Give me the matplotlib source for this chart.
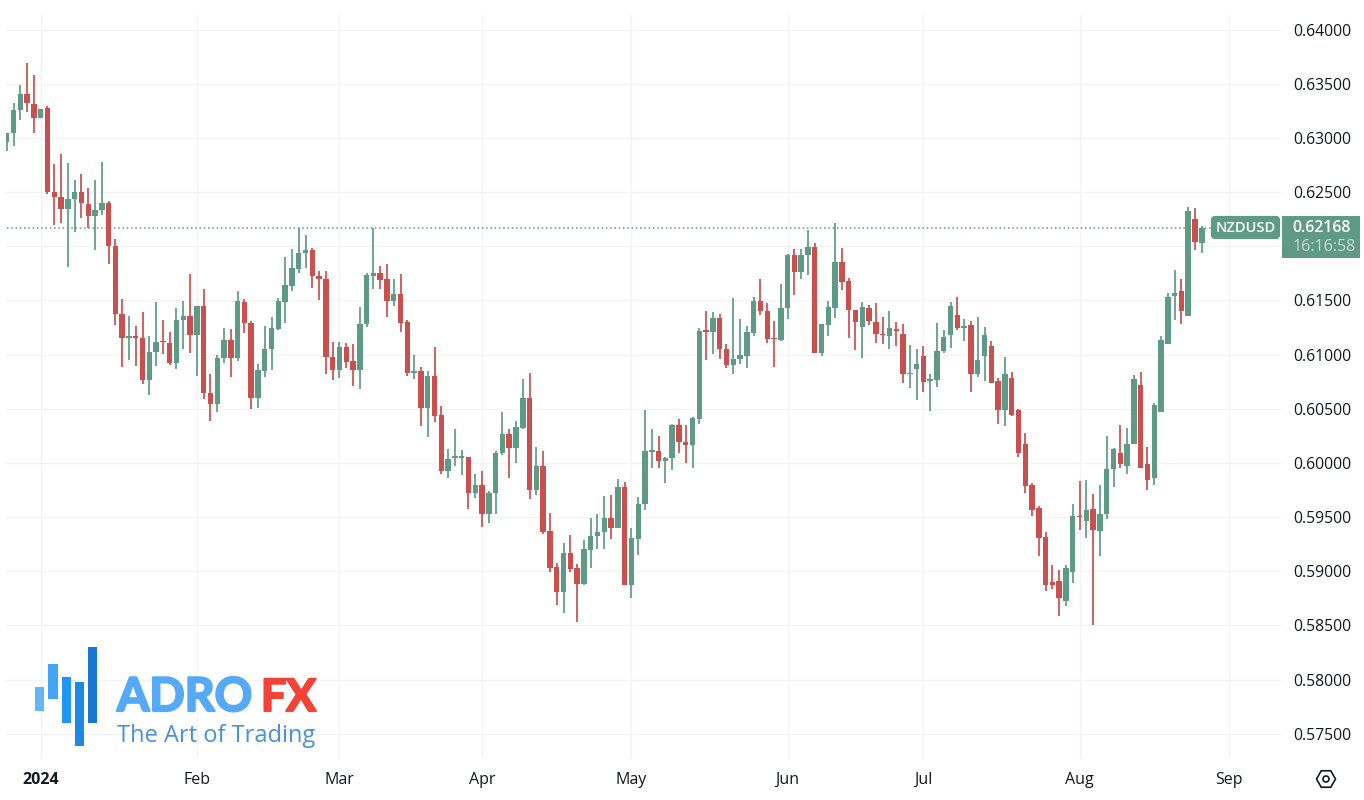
#!/usr/bin/env python3
"""NZDUSD daily candles, 2024, with the AdroFX logo in the corner."""
import matplotlib
matplotlib.use("Agg")
import matplotlib.pyplot as plt
import matplotlib.patheffects as pe
from matplotlib.patches import Rectangle, FancyBboxPatch, RegularPolygon, Circle

W, H = 1364, 800
GREEN = "#5F9A86"
RED = "#C9504F"
GRID = "#F2F3F5"
INK = "#131722"

opens = [
    0.62962, 0.63045, 0.63260, 0.63408, 0.63316, 0.63183, 0.63273, 0.62503, 0.62457, 0.62343,
    0.62436, 0.62503, 0.62393, 0.62276, 0.62331, 0.62402, 0.62005, 0.61377, 0.61156, 0.61168,
    0.61156, 0.60762, 0.61023, 0.61122, 0.61109, 0.60919, 0.61316, 0.61359, 0.61177, 0.61445,
    0.60645, 0.60543, 0.60968, 0.61131, 0.60968, 0.61486, 0.61292, 0.60603, 0.60852, 0.61052,
    0.61234, 0.61489, 0.61637, 0.61794, 0.61938, 0.61963, 0.61726, 0.61698, 0.60978, 0.60861,
    0.61071, 0.60941, 0.60861, 0.61286, 0.61729, 0.61754, 0.61695, 0.61498, 0.61563, 0.61301,
    0.60834, 0.60852, 0.60511, 0.60803, 0.60444, 0.59921, 0.60048, 0.60048, 0.60051, 0.59721,
    0.59798, 0.59528, 0.59721, 0.60091, 0.60263, 0.60134, 0.60318, 0.60601, 0.59749, 0.59974,
    0.59367, 0.59035, 0.58807, 0.59171, 0.59026, 0.58878, 0.59192, 0.59324, 0.59361, 0.59488,
    0.59398, 0.59777, 0.58872, 0.59297, 0.59620, 0.60103, 0.60106, 0.60017, 0.60045, 0.60346,
    0.60196, 0.60168, 0.60406, 0.61224, 0.61212, 0.61338, 0.61052, 0.60908, 0.60957, 0.60991,
    0.61203, 0.61495, 0.61406, 0.61154, 0.61135, 0.61431, 0.61920, 0.61760, 0.61920, 0.61994,
    0.61015, 0.61277, 0.61434, 0.61855, 0.61680, 0.61409, 0.61258, 0.61428, 0.61301, 0.61190,
    0.61174, 0.61239, 0.61193, 0.60820, 0.60864, 0.60990, 0.60753, 0.60762, 0.61033, 0.61177,
    0.61368, 0.61248, 0.61270, 0.60824, 0.60984, 0.61082, 0.60759, 0.60491, 0.60787, 0.60491,
    0.60174, 0.59793, 0.59587, 0.59316, 0.58900, 0.58910, 0.58722, 0.58993, 0.59510, 0.59467,
    0.59577, 0.59368, 0.59528, 0.59947, 0.60090, 0.59973, 0.60176, 0.60715, 0.59992, 0.59860,
    0.60469, 0.61097, 0.61537, 0.61589, 0.61361, 0.62254, 0.62026,
]
highs = [
    0.63048, 0.63322, 0.63485, 0.63691, 0.63586, 0.63270, 0.63291, 0.62762, 0.62854, 0.62771,
    0.62608, 0.62670, 0.62540, 0.62608, 0.62780, 0.62417, 0.62063, 0.61516, 0.61359, 0.61266,
    0.61389, 0.61174, 0.61488, 0.61322, 0.61211, 0.61433, 0.61491, 0.61740, 0.61448, 0.61608,
    0.60823, 0.60999, 0.61248, 0.61236, 0.61586, 0.61511, 0.61308, 0.60917, 0.61268, 0.61348,
    0.61520, 0.61901, 0.61972, 0.62172, 0.62104, 0.61981, 0.61775, 0.61775, 0.61117, 0.61117,
    0.61111, 0.61095, 0.61440, 0.61757, 0.62166, 0.61818, 0.61840, 0.61695, 0.61744, 0.61323,
    0.60997, 0.60886, 0.60849, 0.61071, 0.60528, 0.60131, 0.60309, 0.60115, 0.60057, 0.59894,
    0.59928, 0.59737, 0.60112, 0.60466, 0.60315, 0.60389, 0.60771, 0.60832, 0.60149, 0.60106,
    0.59540, 0.59072, 0.59257, 0.59331, 0.59069, 0.59288, 0.59488, 0.59524, 0.59691, 0.59700,
    0.59848, 0.59820, 0.59401, 0.59681, 0.60488, 0.60315, 0.60251, 0.60057, 0.60355, 0.60401,
    0.60353, 0.60427, 0.61249, 0.61403, 0.61394, 0.61375, 0.61095, 0.61520, 0.61332, 0.61261,
    0.61532, 0.61695, 0.61474, 0.61308, 0.61652, 0.61932, 0.61978, 0.61978, 0.62151, 0.62031,
    0.61283, 0.61495, 0.62212, 0.61984, 0.61704, 0.61409, 0.61486, 0.61458, 0.61477, 0.61350,
    0.61402, 0.61300, 0.61285, 0.61088, 0.61051, 0.61076, 0.60820, 0.61291, 0.61227, 0.61488,
    0.61534, 0.61328, 0.61310, 0.61347, 0.61254, 0.61125, 0.60784, 0.60974, 0.60839, 0.60500,
    0.60276, 0.59814, 0.59599, 0.59362, 0.59060, 0.59011, 0.59060, 0.59620, 0.59833, 0.59845,
    0.59713, 0.59796, 0.60251, 0.60137, 0.60349, 0.60324, 0.60814, 0.60835, 0.60146, 0.60555,
    0.61170, 0.61567, 0.61780, 0.61697, 0.62364, 0.62352, 0.62189,
]
lows = [
    0.62879, 0.62922, 0.63162, 0.63239, 0.63045, 0.63183, 0.62485, 0.62193, 0.62217, 0.61808,
    0.62131, 0.62260, 0.62168, 0.61962, 0.62285, 0.61836, 0.61269, 0.60885, 0.60946, 0.60897,
    0.60725, 0.60623, 0.60891, 0.61002, 0.60903, 0.60866, 0.61054, 0.61017, 0.60802, 0.60589,
    0.60386, 0.60469, 0.60922, 0.60793, 0.60940, 0.61203, 0.60501, 0.60511, 0.60797, 0.60855,
    0.61228, 0.61289, 0.61588, 0.61757, 0.61803, 0.61618, 0.61508, 0.60818, 0.60766, 0.60787,
    0.60880, 0.60711, 0.60686, 0.61258, 0.61609, 0.61603, 0.61351, 0.61446, 0.61212, 0.60803,
    0.60775, 0.60341, 0.60243, 0.60381, 0.59894, 0.59860, 0.59971, 0.59884, 0.59571, 0.59678,
    0.59407, 0.59441, 0.59528, 0.60072, 0.59860, 0.59998, 0.60315, 0.59666, 0.59700, 0.59346,
    0.58989, 0.58684, 0.58614, 0.58992, 0.58531, 0.58869, 0.59026, 0.59204, 0.59201, 0.59294,
    0.59398, 0.58872, 0.58749, 0.59146, 0.59561, 0.59955, 0.59952, 0.59814, 0.59931, 0.60094,
    0.60002, 0.59956, 0.60363, 0.60951, 0.61003, 0.60960, 0.60874, 0.60821, 0.60917, 0.60874,
    0.61169, 0.61366, 0.61111, 0.60886, 0.61126, 0.61329, 0.61551, 0.61698, 0.61735, 0.61015,
    0.60991, 0.61172, 0.61341, 0.61597, 0.61154, 0.61043, 0.60972, 0.61274, 0.61108, 0.61094,
    0.61048, 0.61076, 0.60740, 0.60688, 0.60577, 0.60651, 0.60476, 0.60697, 0.61011, 0.61057,
    0.61230, 0.61122, 0.60651, 0.60790, 0.60759, 0.60734, 0.60362, 0.60337, 0.60436, 0.60051,
    0.59722, 0.59507, 0.59137, 0.58814, 0.58836, 0.58583, 0.58676, 0.58888, 0.59383, 0.59307,
    0.58500, 0.59137, 0.59479, 0.59774, 0.59949, 0.59897, 0.60173, 0.59949, 0.59746, 0.59792,
    0.60466, 0.61097, 0.61324, 0.61278, 0.61352, 0.61967, 0.61937,
]
closes = [
    0.63048, 0.63260, 0.63408, 0.63322, 0.63183, 0.63270, 0.62497, 0.62454, 0.62343, 0.62439,
    0.62503, 0.62396, 0.62276, 0.62334, 0.62402, 0.62005, 0.61374, 0.61156, 0.61168, 0.61156,
    0.60762, 0.61026, 0.61113, 0.61113, 0.60919, 0.61322, 0.61359, 0.61177, 0.61445, 0.60645,
    0.60543, 0.60971, 0.61131, 0.60968, 0.61491, 0.61289, 0.60603, 0.60855, 0.61052, 0.61246,
    0.61495, 0.61640, 0.61797, 0.61938, 0.61963, 0.61726, 0.61698, 0.60978, 0.60861, 0.61071,
    0.60935, 0.60861, 0.61286, 0.61735, 0.61754, 0.61692, 0.61498, 0.61563, 0.61295, 0.60831,
    0.60852, 0.60511, 0.60803, 0.60437, 0.59921, 0.60035, 0.60057, 0.60057, 0.59721, 0.59798,
    0.59528, 0.59721, 0.60094, 0.60263, 0.60134, 0.60328, 0.60601, 0.59749, 0.59974, 0.59364,
    0.59032, 0.58807, 0.59171, 0.59017, 0.58881, 0.59201, 0.59324, 0.59364, 0.59488, 0.59398,
    0.59780, 0.58872, 0.59303, 0.59620, 0.60106, 0.60112, 0.60017, 0.60048, 0.60352, 0.60195,
    0.60168, 0.60411, 0.61218, 0.61212, 0.61338, 0.61052, 0.60908, 0.60957, 0.60994, 0.61206,
    0.61495, 0.61406, 0.61144, 0.61144, 0.61431, 0.61920, 0.61760, 0.61920, 0.61994, 0.61015,
    0.61283, 0.61437, 0.61855, 0.61674, 0.61409, 0.61301, 0.61437, 0.61308, 0.61191, 0.61180,
    0.61248, 0.61214, 0.60820, 0.60830, 0.60913, 0.60750, 0.60777, 0.61033, 0.61165, 0.61451,
    0.61248, 0.61257, 0.60817, 0.60950, 0.61180, 0.60740, 0.60488, 0.60817, 0.60442, 0.60088,
    0.59784, 0.59562, 0.59303, 0.58870, 0.58876, 0.58756, 0.59033, 0.59510, 0.59497, 0.59565,
    0.59384, 0.59528, 0.59943, 0.60131, 0.59986, 0.60173, 0.60773, 0.59955, 0.59841, 0.60537,
    0.61137, 0.61530, 0.61567, 0.61398, 0.62330, 0.62038, 0.62168,
]

last_price = 0.62168
price_ticks = [0.575, 0.58, 0.585, 0.59, 0.595, 0.60, 0.605, 0.61, 0.615, 0.62, 0.625, 0.63, 0.635, 0.64]
month_idx = [5, 28, 49, 70, 92, 115, 135, 158, 180]
month_labels = ["2024", "Feb", "Mar", "Apr", "May", "Jun", "Jul", "Aug", "Sep"]

fig = plt.figure(figsize=(W / 100, H / 100), dpi=100, facecolor="white")
plt.rcParams["font.family"] = ["Open Sans", "DejaVu Sans"]

# pane runs 6..1281 px across and 15..759 px down
ax = fig.add_axes([6 / W, 1 - 759 / H, (1281 - 6) / W, (759 - 15) / H])
ax.set_xlim(-0.11, 1275 / 6.79 - 0.11)
ax.set_ylim(0.64 - (759 - 29.7) / 10830, 0.64 + 14.7 / 10830)
ax.set_zorder(1)
for s in ax.spines.values():
    s.set_visible(False)

ax.set_yticks(price_ticks)
ax.set_yticklabels(["" if abs(t - 0.62) < 1e-9 else f"{t:.5f}" for t in price_ticks],
                   fontsize=11.3, color=INK)
ax.yaxis.tick_right()
ax.tick_params(axis="y", length=0, pad=8.5)
ax.set_xticks(month_idx)
ax.set_xticklabels(month_labels, fontsize=11.5, color=INK)
ax.get_xticklabels()[0].set_fontweight("bold")
ax.tick_params(axis="x", length=0, pad=9.5)
ax.grid(True, color=GRID, lw=1.0)
ax.set_axisbelow(True)

idx = range(len(opens))
colors = [GREEN if c >= o else RED for o, c in zip(opens, closes)]
tops = [max(o, c) for o, c in zip(opens, closes)]
bots = [min(o, c) for o, c in zip(opens, closes)]
ax.vlines(idx, lows, highs, colors=colors, lw=1.25, zorder=3)
ax.bar(idx, [max(t - b, 0.00012) for t, b in zip(tops, bots)], bottom=bots, width=0.8,
       color=colors, lw=0, zorder=4)
ax.plot([0, len(opens) + 1], [last_price, last_price], color=GREEN, lw=1.1,
        ls=(0, (1, 1.8)), zorder=2)

# overlay in plain pixels for the labels and the logo
ov = fig.add_axes([0, 0, 1, 1])
ov.set_xlim(0, W)
ov.set_ylim(H, 0)
ov.axis("off")
ov.patch.set_alpha(0)
ov.set_zorder(2)

ov.add_patch(FancyBboxPatch((1213, 218), 65, 19, boxstyle="round,pad=0,rounding_size=2",
                            fc=GREEN, ec=GREEN, lw=3))
ov.add_patch(Rectangle((1282, 216), 78, 42, fc=GREEN, ec="none"))
ov.text(1246, 228.5, "NZDUSD", color="white", fontsize=10.5, ha="center", va="center", fontweight="semibold")
ov.text(1321.5, 228.5, "0.62168", color="white", fontsize=11.4, ha="center", va="center", fontweight="semibold")
ov.text(1324, 247, "16:16:58", color="#C9DCD4", fontsize=11.6, ha="center", va="center")

ov.add_patch(RegularPolygon((1326, 779), 6, radius=9.5, orientation=0.5236, fc="none", ec=INK, lw=1.2))
ov.add_patch(Circle((1326, 779), 3, fc="none", ec=INK, lw=1.2))

logo_bars = [
    (35, 44.3, 687.3, 711.3, "#64B5F6"),
    (48.3, 57.7, 664.3, 699.3, "#42A5F5"),
    (61.7, 71, 677.3, 723.3, "#2196F3"),
    (75, 84, 682, 745.7, "#1E88E5"),
    (88.3, 97.3, 647, 723.3, "#1976D2"),
]
for x0, x1, y0, y1, col in logo_bars:
    ov.add_patch(Rectangle((x0, y0), x1 - x0, y1 - y0, fc=col, ec="none"))
adro = ov.text(117, 711, "ADRO", color="#55A9F7", fontsize=33.5, fontweight="bold", family="Lato",
               ha="left", va="baseline")
adro.set_path_effects([pe.withStroke(linewidth=1.6, foreground="#55A9F7")])
fx = ov.text(261, 711, "FX", color="#F44336", fontsize=32, fontweight="bold", family="Lato",
             ha="left", va="baseline")
fx.set_path_effects([pe.withStroke(linewidth=1.6, foreground="#F44336")])
ov.text(117, 742, "The Art of Trading", color="#4A90DA", fontsize=17, family="Open Sans",
        ha="left", va="baseline")

fig.savefig("out.png", dpi=100)
plt.close(fig)
